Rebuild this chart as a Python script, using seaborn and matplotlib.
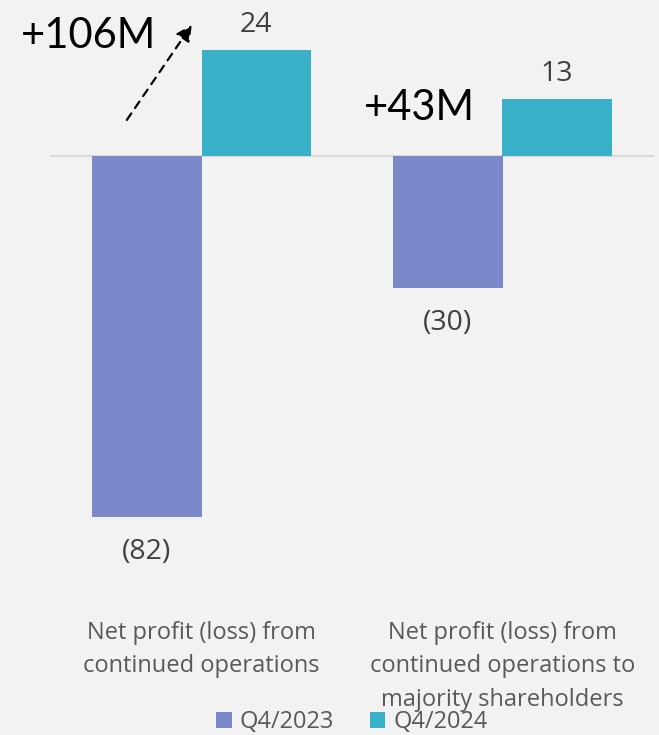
import matplotlib
matplotlib.use("Agg")
import matplotlib.pyplot as plt
from matplotlib.patches import Patch
import seaborn as sns
import pandas as pd

# Data
categories = [
    "Net profit (loss) from\ncontinued operations",
    "Net profit (loss) from\ncontinued operations to\nmajority shareholders",
]
periods = ["Q4/2023", "Q4/2024"]
q4_2023 = [-82, -30]
q4_2024 = [24, 13]
changes = ["+106M", "+43M"]

purple = "#7B88C9"
teal = "#38B0C7"
bg = "#F2F2F2"

df = pd.DataFrame({
    "category": categories * 2,
    "period": [periods[0]] * len(categories) + [periods[1]] * len(categories),
    "value": q4_2023 + q4_2024,
})

sns.set_theme(style="white")
plt.rcParams["font.family"] = ["Open Sans", "DejaVu Sans"]

W, H = 659, 735
fig = plt.figure(figsize=(W / 100, H / 100), dpi=100, facecolor=bg)
ax = fig.add_axes([51 / W, 1 - 560 / H, 602 / W, 540 / H], facecolor=bg)

sns.barplot(data=df, x="category", y="value", hue="period",
            palette=[purple, teal], saturation=1, width=0.725, gap=0,
            linewidth=0, legend=False, ax=ax, zorder=3)

ax.set_xlim(-0.5, len(categories) - 0.5)
ax.set_ylim(-91.8, 30.9)

# Baseline at zero with separator ticks between categories
for s in ["top", "right", "left"]:
    ax.spines[s].set_visible(False)
ax.spines["bottom"].set_position(("data", 0))
ax.spines["bottom"].set_color("#D9D9D9")
ax.spines["bottom"].set_linewidth(1.6)
ax.spines["bottom"].set_zorder(2)
ax.set_xticks([i - 0.5 for i in range(len(categories) + 1)])
ax.set_xticklabels([])
ax.tick_params(axis="x", length=6, width=1.6, color="#D9D9D9", direction="out")
ax.set_yticks([])
ax.set_xlabel("")
ax.set_ylabel("")

# Value labels: positives above the bar, negatives in parentheses below
for cont in ax.containers:
    vals = cont.datavalues
    pos_labels = [f"{v:.0f}" if v >= 0 else "" for v in vals]
    neg_labels = [f"({abs(v):.0f})" if v < 0 else "" for v in vals]
    ax.bar_label(cont, labels=pos_labels, padding=8, fontsize=20.5, color="#404040")
    ax.bar_label(cont, labels=neg_labels, padding=15, fontsize=20.5, color="#404040")

# Category labels under the chart
xt = ax.get_xaxis_transform()
for i, cat in enumerate(categories):
    ax.text(i, -0.113, cat, transform=xt, ha="center", va="top",
            fontsize=17, color="#595959", linespacing=1.52)

# Change annotations
ax.text(-0.377, 27.3, changes[0], ha="center", va="center",
        fontsize=30, color="black", family=["Lato", "DejaVu Sans"])
ax.annotate("", xy=(-0.032, 29.8), xytext=(-0.248, 8.2),
            arrowprops=dict(arrowstyle="-|>,head_length=0.8,head_width=0.4",
                            linestyle=(0, (3.5, 3)), color="black", lw=1.6,
                            shrinkA=0, shrinkB=0))
ax.text(0.7226, 10.9, changes[1], ha="center", va="center",
        fontsize=30, color="black", family=["Lato", "DejaVu Sans"])

# Legend
handles = [Patch(facecolor=c, edgecolor="none") for c in (purple, teal)]
fig.legend(handles, periods, loc="center", bbox_to_anchor=(352 / W, 1 - 722 / H),
           ncol=2, frameon=False, fontsize=17, labelcolor="#595959",
           handlelength=0.65, handleheight=0.65, handletextpad=0.35,
           columnspacing=1.5, borderpad=0)

fig.savefig("out.png", dpi=100, facecolor=bg)
